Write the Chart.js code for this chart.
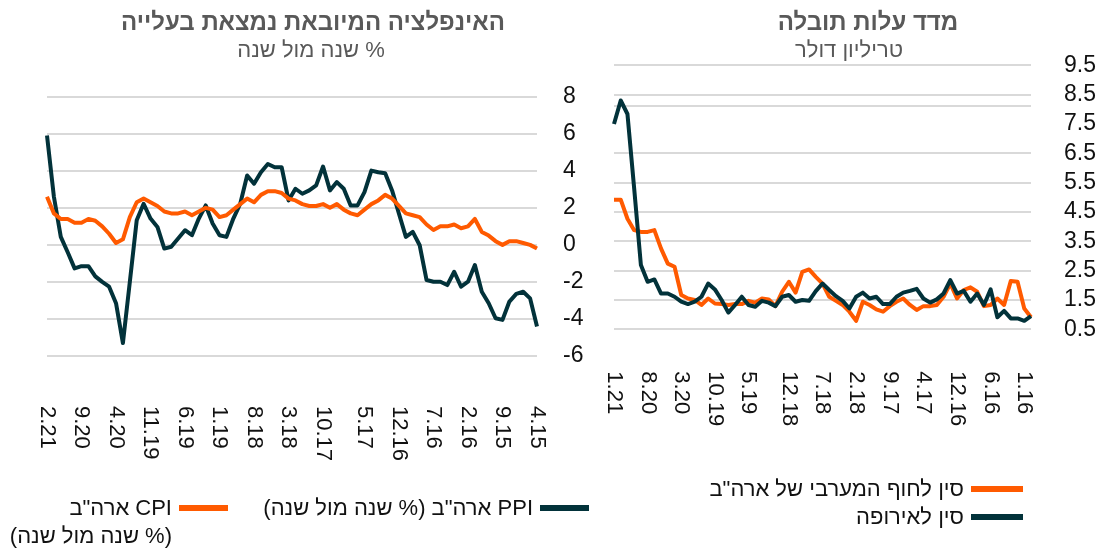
<!DOCTYPE html>
<html lang="he">
<head>
  <meta charset="UTF-8">
  <title>אינפלציה מיובאת ועלות תובלה</title>
  <script src="https://cdn.jsdelivr.net/npm/chart.js"></script>
  <style>
    body {
      margin: 0;
      background: #fff;
      font-family: "Liberation Sans", Arial, sans-serif;
    }
    #wrap {
      position: relative;
      width: 1099px;
      height: 550px;
      overflow: hidden;
    }
    canvas {
      position: absolute;
      left: 0;
      top: 0;
    }
    .title, .sub {
      position: absolute;
      width: 500px;
      text-align: center;
      direction: rtl;
      white-space: nowrap;
      color: #595959;
    }
    .title {
      font-size: 24px;
      font-weight: bold;
      line-height: 28px;
      top: 8px;
    }
    .sub {
      font-size: 22px;
      line-height: 28px;
      top: 36px;
    }
    .leg {
      position: absolute;
      direction: rtl;
      text-align: right;
      white-space: nowrap;
      font-size: 22px;
      line-height: 28px;
      color: #111;
    }
    .swatch {
      position: absolute;
      height: 6px;
    }
  </style>
</head>
<body>
<div id="wrap">
  <canvas id="leftChart" width="1099" height="550"></canvas>
  <canvas id="rightChart" width="1099" height="550"></canvas>

  <div class="title" style="left:63px">האינפלציה המיובאת נמצאת בעלייה</div>
  <div class="sub" style="left:61px">% שנה מול שנה</div>
  <div class="title" style="left:618px">מדד עלות תובלה</div>
  <div class="sub" style="left:599px">טריליון דולר</div>

  <!-- left legend -->
  <div class="swatch" style="left:540px;width:49px;top:505px;background:#02323a"></div>
  <div class="leg" style="right:566px;top:494px">PPI ארה"ב (% שנה מול שנה)</div>
  <div class="swatch" style="left:179px;width:49px;top:505px;background:#ff5a00"></div>
  <div class="leg" style="right:927px;top:494px">CPI ארה"ב<br>(% שנה מול שנה)</div>

  <!-- right legend -->
  <div class="swatch" style="left:971px;width:52px;top:486px;background:#ff5a00"></div>
  <div class="leg" style="right:135px;top:475px">סין לחוף המערבי של ארה"ב</div>
  <div class="swatch" style="left:971px;width:52px;top:514px;background:#02323a"></div>
  <div class="leg" style="right:135px;top:503px">סין לאירופה</div>
</div>

<script>
  // ---- left panel: US CPI / PPI, % y/y (newest on the left) ----
  const leftTicks = ['2.21', '9.20', '4.20', '11.19', '6.19', '1.19', '8.18', '3.18',
                     '10.17', '5.17', '12.16', '7.16', '2.16', '9.15', '4.15'];
  const leftTickAt = [0, 5, 10, 15, 20, 25, 30, 35, 40, 46, 51, 56, 61, 66, 71];
  const usCPI = [2.6, 1.7, 1.4, 1.4, 1.2, 1.2, 1.4, 1.3, 1.0, 0.6,
                 0.1, 0.3, 1.5, 2.3, 2.5, 2.3, 2.1, 1.8, 1.7, 1.7,
                 1.8, 1.6, 1.8, 2.0, 1.9, 1.5, 1.6, 1.9, 2.2, 2.5,
                 2.3, 2.7, 2.9, 2.9, 2.8, 2.5, 2.4, 2.2, 2.1, 2.1,
                 2.2, 2.0, 2.2, 1.9, 1.7, 1.6, 1.9, 2.2, 2.4, 2.7,
                 2.5, 2.1, 1.7, 1.6, 1.5, 1.1, 0.8, 1.0, 1.0, 1.1,
                 0.9, 1.0, 1.4, 0.7, 0.5, 0.2, 0.0, 0.2, 0.2, 0.1,
                 0.0, -0.2];
  const usPPI = [5.9, 2.6, 0.43, -0.4, -1.27, -1.15, -1.15, -1.7, -2.0, -2.26,
                 -3.15, -5.3, -2.0, 1.33, 2.22, 1.42, 0.97, -0.2, -0.1, 0.34,
                 0.79, 0.52, 1.42, 2.13, 1.15, 0.52, 0.43, 1.42, 2.22, 3.75,
                 3.3, 3.92, 4.37, 4.19, 4.19, 2.4, 3.03, 2.76, 2.94, 3.21,
                 4.23, 2.94, 3.39, 3.03, 2.13, 2.13, 2.85, 4.01, 3.92, 3.87,
                 2.94, 1.68, 0.43, 0.7, -0.02, -1.9, -1.99, -1.99, -2.17, -1.45,
                 -2.26, -1.99, -1.09, -2.53, -3.15, -3.96, -4.05, -3.06, -2.65, -2.53,
                 -2.89, -4.41];

  // ---- right panel: freight cost index ----
  const rightTicks = ['1.21', '8.20', '3.20', '10.19', '5.19', '12.18', '7.18',
                      '2.18', '9.17', '4.17', '12.16', '6.16', '1.16'];
  const rightTickAt = [0, 5, 10, 15, 20, 26, 31, 36, 41, 46, 51, 56, 61];
  const chinaWestCoast = [4.92, 4.92, 4.27, 3.88, 3.82, 3.82, 3.88, 3.25, 2.74, 2.63,
                          1.67, 1.55, 1.50, 1.33, 1.55, 1.38, 1.36, 1.33, 1.36, 1.36,
                          1.47, 1.41, 1.55, 1.52, 1.29, 1.78, 2.12, 1.75, 2.46, 2.54,
                          2.29, 2.06, 1.61, 1.47, 1.33, 1.10, 0.79, 1.44, 1.33, 1.18,
                          1.10, 1.29, 1.44, 1.55, 1.33, 1.16, 1.29, 1.29, 1.33, 1.61,
                          2.06, 1.55, 1.84, 1.93, 1.78, 1.29, 1.33, 1.55, 1.33, 2.15,
                          2.12, 1.21, 0.91];
  const chinaEurope = [7.50, 8.30, 7.84, 5.3, 2.69, 2.12, 2.20, 1.72, 1.72, 1.61,
                       1.44, 1.36, 1.44, 1.61, 2.06, 1.86, 1.50, 1.07, 1.33, 1.61,
                       1.33, 1.27, 1.47, 1.41, 1.29, 1.61, 1.67, 1.44, 1.50, 1.47,
                       1.80, 2.06, 1.84, 1.63, 1.47, 1.21, 1.61, 1.75, 1.55, 1.61,
                       1.36, 1.36, 1.61, 1.75, 1.81, 1.88, 1.55, 1.41, 1.52, 1.72,
                       2.18, 1.72, 1.81, 1.44, 1.72, 1.33, 1.86, 0.91, 1.13, 0.87,
                       0.87, 0.79, 0.95];

  const ORANGE = '#ff5a00';
  const DARK = '#02323a';
  const FONT = '"Liberation Sans", Arial, sans-serif';

  // category labels: blank except where a tick label is shown
  const leftCats = usCPI.map(() => '');
  leftTicks.forEach((t, k) => { leftCats[leftTickAt[k]] = t; });
  const rightCats = chinaEurope.map(() => '');
  rightTicks.forEach((t, k) => { rightCats[rightTickAt[k]] = t; });

  // x labels rotated clockwise (read top to bottom), placed by the x scale
  const vertTicks = {
    id: 'vertTicks',
    afterDraw(chart, args, opts) {
      const ctx = chart.ctx;
      const x = chart.scales.x;
      const top = chart.chartArea.bottom + opts.gap;
      ctx.save();
      ctx.font = '22px ' + FONT;
      ctx.fillStyle = '#111';
      ctx.textAlign = 'left';
      ctx.textBaseline = 'middle';
      chart.data.labels.forEach((lab, i) => {
        if (!lab) return;
        ctx.save();
        ctx.translate(x.getPixelForValue(i), top);
        ctx.rotate(Math.PI / 2);
        ctx.fillText(lab, 0, 0);
        ctx.restore();
      });
      ctx.restore();
    }
  };

  function lineSet(label, data, color) {
    return {
      label: label,
      data: data,
      borderColor: color,
      backgroundColor: color,
      borderWidth: 4,
      pointRadius: 0,
      tension: 0,
      fill: false,
      borderJoinStyle: 'round'
    };
  }

  const xHidden = {
    ticks: { display: false },
    grid: { display: false },
    border: { display: false },
    afterFit(s) { s.height = 0; }
  };

  new Chart(document.getElementById('leftChart'), {
    type: 'line',
    data: {
      labels: leftCats,
      datasets: [
        lineSet('CPI ארה"ב', usCPI, ORANGE),
        lineSet('PPI ארה"ב', usPPI, DARK)
      ]
    },
    options: {
      responsive: false,
      animation: false,
      devicePixelRatio: 1,
      layout: { padding: { left: 47, top: 96.7, right: 502, bottom: 194 } },
      plugins: {
        legend: { display: false },
        tooltip: { enabled: false },
        vertTicks: { gap: 50 }
      },
      scales: {
        x: xHidden,
        y: {
          position: 'right',
          min: -6,
          max: 8,
          ticks: {
            stepSize: 2,
            autoSkip: false,
            padding: 26,
            crossAlign: 'near',
            color: '#111',
            font: { family: FONT, size: 23 }
          },
          grid: { color: '#d9d9d9', lineWidth: 2, drawTicks: false },
          border: { display: false },
          afterFit(s) { s.width = 60; }
        }
      }
    },
    plugins: [vertTicks]
  });

  new Chart(document.getElementById('rightChart'), {
    type: 'line',
    data: {
      labels: rightCats,
      datasets: [
        lineSet('סין לאירופה', chinaEurope, DARK),
        lineSet('סין לחוף המערבי של ארה"ב', chinaWestCoast, ORANGE)
      ]
    },
    options: {
      responsive: false,
      animation: false,
      devicePixelRatio: 1,
      layout: { padding: { left: 614, top: 65.3, right: 0, bottom: 220.7 } },
      plugins: {
        legend: { display: false },
        tooltip: { enabled: false },
        vertTicks: { gap: 42 }
      },
      scales: {
        x: xHidden,
        y: {
          position: 'right',
          min: 0.5,
          max: 9.5,
          afterBuildTicks(s) {
            s.ticks.push({ value: 8.12 });
            s.ticks.sort((a, b) => a.value - b.value);
          },
          ticks: {
            stepSize: 1,
            autoSkip: false,
            padding: 33,
            crossAlign: 'near',
            color: '#111',
            font: { family: FONT, size: 23 },
            callback: v => (v === 8.12 ? '' : v.toFixed(1))
          },
          grid: {
            color: c => (c.tick && c.tick.value === 7.5 ? 'rgba(0,0,0,0)' : '#d9d9d9'),
            lineWidth: 2,
            drawTicks: false
          },
          border: { display: false },
          afterFit(s) { s.width = 68; }
        }
      }
    },
    plugins: [vertTicks]
  });
</script>
</body>
</html>
